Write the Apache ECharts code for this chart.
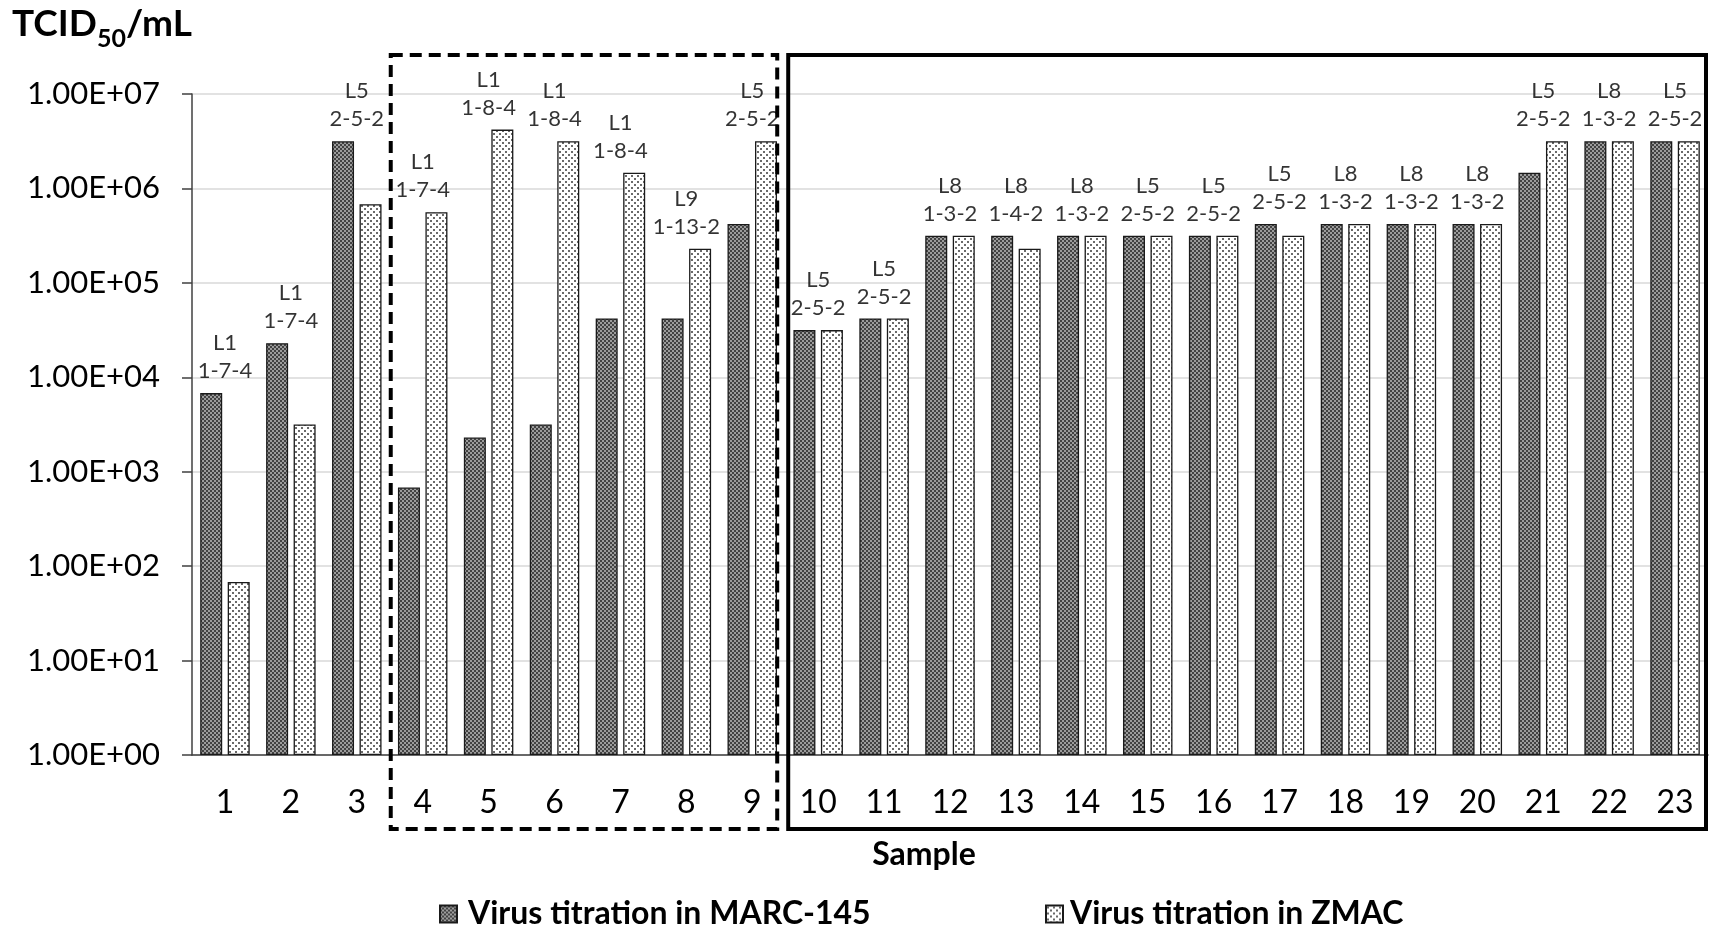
<!DOCTYPE html>
<html>
<head>
<meta charset="utf-8">
<script src="https://cdn.jsdelivr.net/npm/echarts@6/dist/echarts.min.js"></script>
<style>
html,body{margin:0;padding:0;background:#fff;}
#chart{width:1711px;height:926px;}
</style>
</head>
<body>
<div id="chart"></div>
<script>
const categories = ['1','2','3','4','5','6','7','8','9','10','11','12','13','14','15','16','17','18','19','20','21','22','23'];
const marc145 = [6.8e3, 2.3e4, 3.16e6, 6.8e2, 2.3e3, 3.16e3, 4.2e4, 4.2e4, 4.2e5, 3.16e4, 4.2e4, 3.16e5, 3.16e5, 3.16e5, 3.16e5, 3.16e5, 4.2e5, 4.2e5, 4.2e5, 4.2e5, 1.47e6, 3.16e6, 3.16e6];
const zmac = [68, 3.16e3, 6.8e5, 5.6e5, 4.2e6, 3.16e6, 1.47e6, 2.3e5, 3.16e6, 3.16e4, 4.2e4, 3.16e5, 2.3e5, 3.16e5, 3.16e5, 3.16e5, 3.16e5, 4.2e5, 4.2e5, 4.2e5, 3.16e6, 3.16e6, 3.16e6];
const lineages = ['L1','L1','L5','L1','L1','L1','L1','L9','L5','L5','L5','L8','L8','L8','L5','L5','L5','L8','L8','L8','L5','L8','L5'];
const rflpPatterns = ['1-7-4','1-7-4','2-5-2','1-7-4','1-8-4','1-8-4','1-8-4','1-13-2','2-5-2','2-5-2','2-5-2','1-3-2','1-4-2','1-3-2','2-5-2','2-5-2','2-5-2','1-3-2','1-3-2','1-3-2','2-5-2','1-3-2','2-5-2'];
const yTickLabels = ['1.00E+00','1.00E+01','1.00E+02','1.00E+03','1.00E+04','1.00E+05','1.00E+06','1.00E+07'];
const seriesNames = ['Virus titration in MARC-145', 'Virus titration in ZMAC'];

const FONT = 'Lato, "Open Sans", sans-serif';

function darkPattern(){
  const c = document.createElement('canvas'); c.width = 4; c.height = 4;
  const g = c.getContext('2d');
  g.fillStyle = '#9c9c9c'; g.fillRect(0,0,4,4);
  g.fillStyle = '#424242'; g.fillRect(0,0,2,2); g.fillRect(2,2,2,2);
  return c;
}
function dotPattern(){
  const c = document.createElement('canvas'); c.width = 6; c.height = 6;
  const g = c.getContext('2d');
  g.fillStyle = '#ffffff'; g.fillRect(0,0,6,6);
  g.fillStyle = '#6a6a6a'; g.fillRect(1,1,2,2); g.fillRect(4,4,2,2);
  return c;
}

const labelMax = marc145.map((v,i)=>Math.max(v, zmac[i]));

const chart = echarts.init(document.getElementById('chart'), null, {renderer:'canvas'});
chart.setOption({
  animation: false,
  backgroundColor: '#ffffff',
  textStyle: {fontFamily: FONT},
  grid: {left: 192, right: 3, top: 94, bottom: 171, containLabel: false},
  legend: [
    {data: [seriesNames[0]], icon: 'rect', left: 434, top: 893, itemWidth: 17, itemHeight: 17,
     textStyle: {fontFamily: FONT, fontSize: 32, fontWeight: 'bold', color: '#000', padding: [0,0,0,6]}},
    {data: [seriesNames[1]], icon: 'rect', left: 1040, top: 893, itemWidth: 17, itemHeight: 17,
     textStyle: {fontFamily: FONT, fontSize: 32, fontWeight: 'bold', color: '#000', padding: [0,0,0,2]}}
  ],
  xAxis: {
    type: 'category', data: categories,
    axisTick: {show: false},
    axisLine: {lineStyle: {color: '#404040', width: 1.5}},
    axisLabel: {fontFamily: FONT, fontSize: 32, color: '#000', margin: 32}
  },
  yAxis: {
    type: 'log', logBase: 10, min: 1, max: 1e7,
    axisLine: {show: true, lineStyle: {color: '#404040', width: 1.5}},
    axisTick: {show: true, length: 10, lineStyle: {color: '#404040', width: 1.5}},
    splitLine: {show: true, lineStyle: {color: '#d9d9d9', width: 1.5}},
    axisLabel: {fontFamily: FONT, fontSize: 31, color: '#000', margin: 32,
      formatter: v => yTickLabels[Math.round(Math.log10(v))]}
  },
  series: [
    {name: seriesNames[0], type: 'bar', data: marc145, barWidth: 22, barGap: '25%',
     itemStyle: {color: {image: darkPattern(), repeat: 'repeat'}, borderColor: '#1a1a1a', borderWidth: 1.3}},
    {name: seriesNames[1], type: 'bar', data: zmac, barWidth: 22, barGap: '25%',
     itemStyle: {color: {image: dotPattern(), repeat: 'repeat'}, borderColor: '#1a1a1a', borderWidth: 1.3}},
    {name: 'labels', type: 'scatter', data: labelMax, symbolSize: 0, silent: true, z: 5,
     label: {show: true, position: 'top', distance: 8, fontFamily: FONT, fontSize: 22, lineHeight: 28, color: '#000',
       formatter: p => lineages[p.dataIndex] + '\n' + rflpPatterns[p.dataIndex]}}
  ]
});

// Annotation boxes aligned to category bands
const xAxis = chart.getModel().getComponent('xAxis', 0).axis;
const band = xAxis.getBandWidth();
const cx = i => chart.convertToPixel({xAxisIndex: 0}, categories[i]);
const dashL = cx(3) - band/2 + 1;
const dashR = cx(8) + band/2 - 8;
const solidL = cx(9) - band/2 + 3;
const solidR = cx(22) + band/2 - 2;
const boxTop = 55, boxBottom = 829;

chart.setOption({
  graphic: [
    {type: 'text', left: 12, top: 6, style: {
      text: '{a|TCID}{s|50}{a|/mL}',
      rich: {
        a: {fontFamily: FONT, fontSize: 37, fontWeight: 'bold', fill: '#000', verticalAlign: 'bottom'},
        s: {fontFamily: FONT, fontSize: 25, fontWeight: 'bold', fill: '#000', verticalAlign: 'bottom', padding: [0,0,-8,0]}
      }}},
    {type: 'text', x: 924, y: 855, style: {text: 'Sample', fontFamily: FONT, fontSize: 32, fontWeight: 'bold', fill: '#000', align: 'center', verticalAlign: 'middle'}},
    {type: 'rect', shape: {x: dashL, y: boxTop, width: dashR - dashL, height: boxBottom - boxTop},
     style: {fill: 'none', stroke: '#000', lineWidth: 4, lineDash: [12, 7]}, z: 10},
    {type: 'rect', shape: {x: solidL, y: boxTop, width: solidR - solidL, height: boxBottom - boxTop},
     style: {fill: 'none', stroke: '#000', lineWidth: 4}, z: 10}
  ]
});
</script>
</body>
</html>
